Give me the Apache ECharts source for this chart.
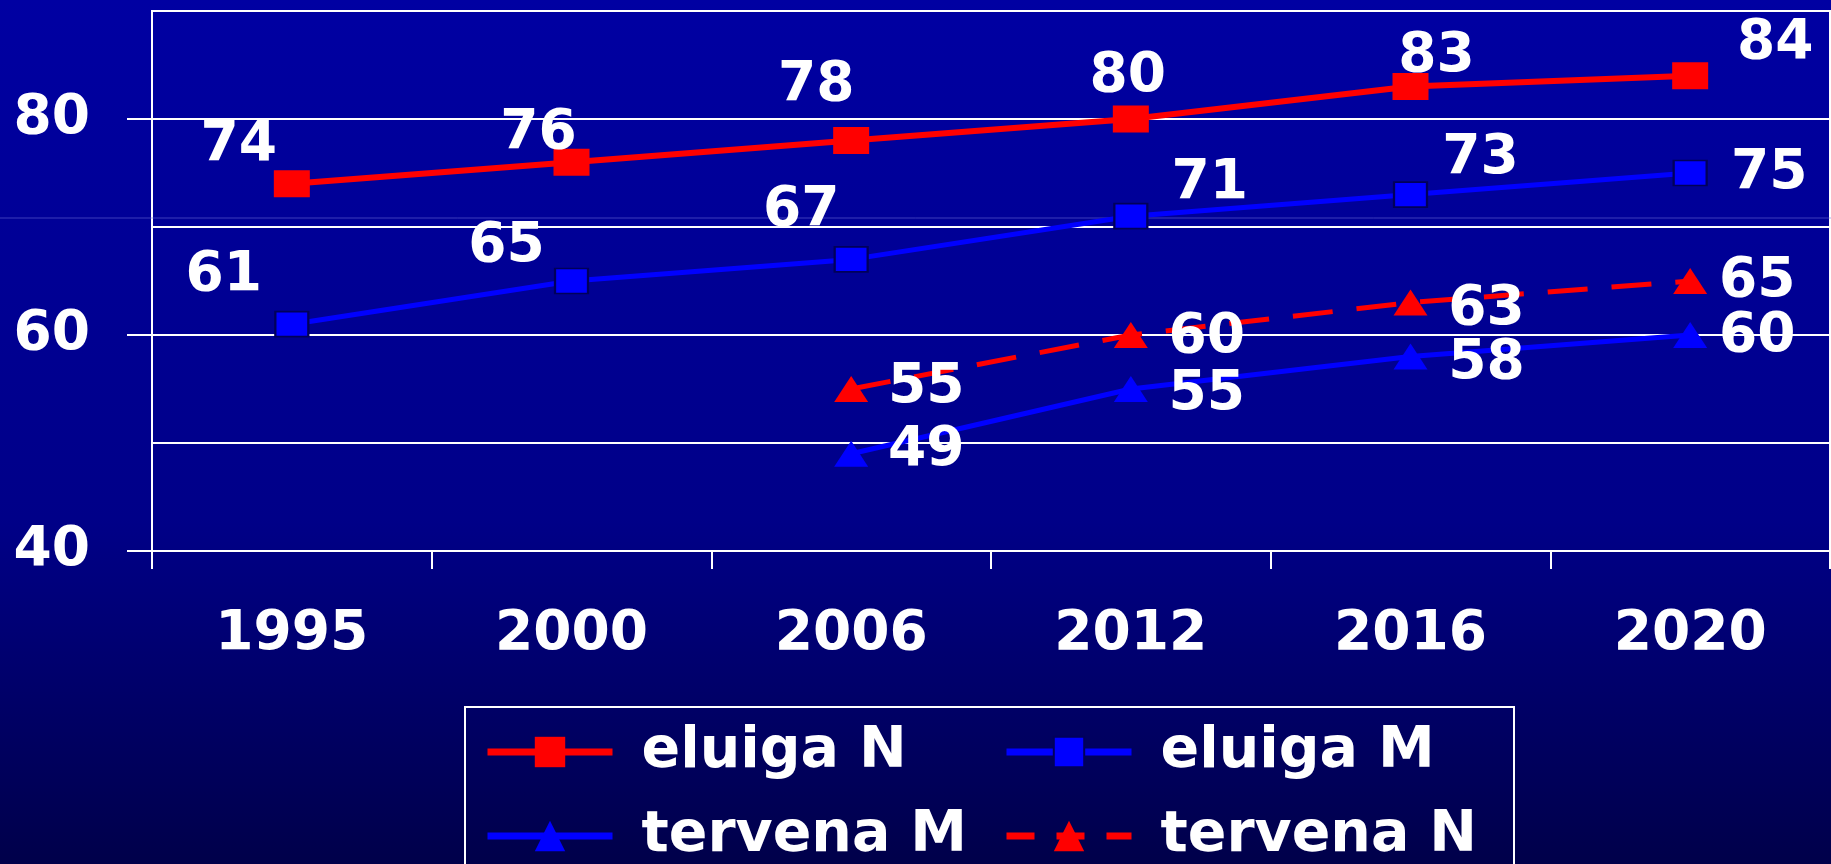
<!DOCTYPE html>
<html>
<head>
<meta charset="utf-8">
<script src="https://cdn.jsdelivr.net/npm/echarts@6/dist/echarts.min.js"></script>
<style>
  html, body { margin: 0; padding: 0; background: #000070; }
  #chart { width: 1831px; height: 864px; }
</style>
</head>
<body>
<div id="chart"></div>
<script>
// data
const years = ['1995', '2000', '2006', '2012', '2016', '2020'];
const eluigaN = [74, 76, 78, 80, 83, 84];
const eluigaM = [61, 65, 67, 71, 73, 75];
const tervenaM = [null, null, 49, 55, 58, 60];
const tervenaN = [null, null, 55, 60, 63, 65];

// where each value label sits relative to its marker (px)
const nudgeEN = [[-53, -38], [-33, -28], [-35, -55], [-3, -42], [26, -30], [85, -32]];
const nudgeEM = [[-68, -48], [-65, -34], [-50, -49], [79, -32], [70, -36], [79, 1]];
const nudgeTN = [null, null, [75, -1], [76, 3], [76, 7], [67, 1]];
const nudgeTM = [null, null, [75, -3], [76, 6], [76, 7], [67, 2]];

const FONT = 'DejaVu Sans';

function withLabels(values, nudges) {
  return values.map(function (v, i) {
    if (v == null) return null;
    return { value: v, label: { offset: nudges[i] } };
  });
}

const valueLabel = {
  show: true,
  position: 'inside',
  align: 'center',
  verticalAlign: 'middle',
  color: '#fff',
  fontFamily: FONT,
  fontWeight: 'bold',
  fontSize: 55
};

const chart = echarts.init(document.getElementById('chart'));

// one legend per entry so the two columns line up like the original
function legendItem(name, left, top, dashed) {
  return {
    data: [name],
    orient: 'horizontal',
    left: left,
    top: top,
    padding: 0,
    itemWidth: 125,
    itemHeight: 38,
    lineStyle: { width: 7, type: dashed ? [28, 22] : 'solid' },
    textStyle: {
      color: '#fff',
      fontFamily: FONT,
      fontWeight: 'bold',
      fontSize: 57,
      lineHeight: 60,
      padding: [0, 0, 0, 24]
    }
  };
}

const option = {
  animation: false,
  backgroundColor: {
    type: 'linear', x: 0, y: 0, x2: 0, y2: 1,
    colorStops: [
      { offset: 0, color: '#0000A2' },
      { offset: 0.6, color: '#000088' },
      { offset: 1, color: '#00004A' }
    ]
  },
  grid: [
    { left: 152, right: 1, top: 11, bottom: 313, show: true, borderColor: '#fff', borderWidth: 2, backgroundColor: 'transparent' },
    { left: 152, right: 1, top: 119, bottom: 313 }
  ],
  xAxis: [
    {
      type: 'category',
      data: years,
      boundaryGap: true,
      axisLine: { lineStyle: { color: '#fff', width: 2 } },
      axisTick: { show: true, length: 18, lineStyle: { color: '#fff', width: 2 } },
      axisLabel: { color: '#fff', fontFamily: FONT, fontWeight: 'bold', fontSize: 55, margin: 56 },
      splitLine: { show: false }
    },
    { type: 'category', gridIndex: 1, data: years, show: false }
  ],
  yAxis: [
    {
      type: 'value',
      min: 40,
      max: 90,
      interval: 10,
      axisLine: { show: true, lineStyle: { color: '#fff', width: 2 } },
      axisTick: { show: false },
      axisLabel: {
        color: '#fff', fontFamily: FONT, fontWeight: 'bold', fontSize: 55, margin: 62,
        formatter: function (v) { return v % 20 === 0 ? String(v) : ''; }
      },
      splitLine: { show: true, lineStyle: { color: '#fff', width: 2 } }
    },
    {
      // only carries the outer ticks at 40 / 60 / 80
      type: 'value',
      gridIndex: 1,
      min: 40,
      max: 80,
      interval: 20,
      axisLine: { show: false },
      axisTick: { show: true, length: 25, lineStyle: { color: '#fff', width: 2 } },
      axisLabel: { show: false },
      splitLine: { show: false }
    }
  ],
  legend: [
    legendItem('eluiga N', 484, 722, false),
    legendItem('eluiga M', 1003, 722, false),
    legendItem('tervena M', 484, 806, false),
    legendItem('tervena N', 1003, 806, true)
  ],
  graphic: [
    {
      type: 'line',
      shape: { x1: 0, y1: 218, x2: 1831, y2: 218 },
      style: { stroke: 'rgba(110,110,220,0.55)', lineWidth: 1 },
      silent: true,
      z: 1
    },
    {
      type: 'rect',
      shape: { x: 465, y: 707, width: 1049, height: 200 },
      style: { fill: 'transparent', stroke: '#fff', lineWidth: 2 },
      silent: true
    }
  ],
  series: [
    {
      name: 'eluiga M',
      type: 'line',
      data: withLabels(eluigaM, nudgeEM),
      symbol: 'rect',
      symbolSize: [33, 25],
      itemStyle: { color: '#0000FF', borderColor: '#00005A', borderWidth: 2 },
      lineStyle: { color: '#0000FF', width: 5 },
      label: valueLabel,
      z: 3
    },
    {
      name: 'tervena M',
      type: 'line',
      data: withLabels(tervenaM, nudgeTM),
      symbol: 'triangle',
      symbolSize: [34, 26],
      itemStyle: { color: '#0000FF' },
      lineStyle: { color: '#0000FF', width: 5 },
      label: valueLabel,
      z: 3
    },
    {
      name: 'tervena N',
      type: 'line',
      data: withLabels(tervenaN, nudgeTN),
      symbol: 'triangle',
      symbolSize: [34, 26],
      itemStyle: { color: '#FF0000' },
      lineStyle: { color: '#FF0000', width: 5, type: [40, 24] },
      label: valueLabel,
      z: 4
    },
    {
      name: 'eluiga N',
      type: 'line',
      data: withLabels(eluigaN, nudgeEN),
      symbol: 'rect',
      symbolSize: [36, 27],
      itemStyle: { color: '#FF0000' },
      lineStyle: { color: '#FF0000', width: 6 },
      label: valueLabel,
      z: 4
    }
  ]
};

chart.setOption(option);
</script>
</body>
</html>
